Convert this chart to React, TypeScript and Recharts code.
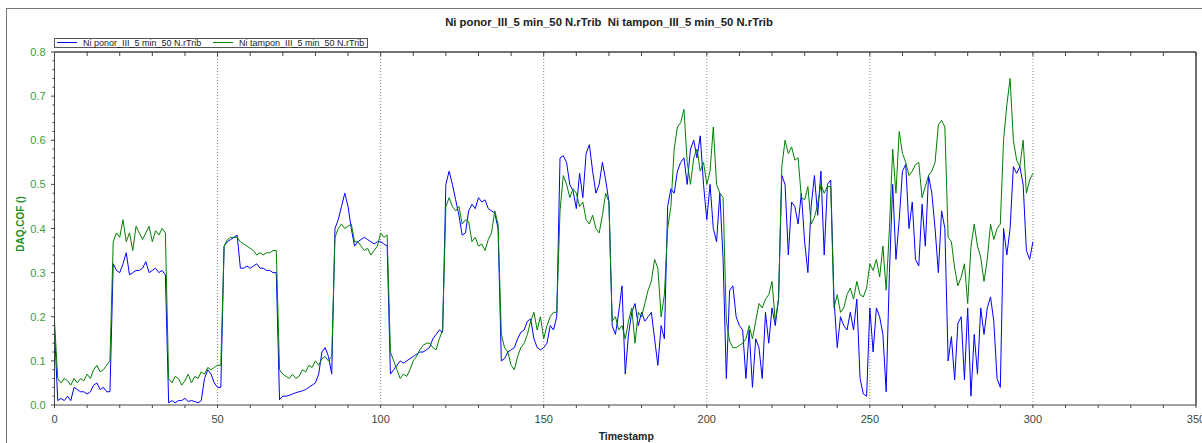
import React from 'react';
import { LineChart, Line, XAxis, YAxis, ReferenceLine, Legend } from 'recharts';

const TITLE = 'Ni ponor_III_5 min_50 N.rTrib  Ni tampon_III_5 min_50 N.rTrib';
const SERIES_PONOR = 'Ni ponor_III_5 min_50 N.rTrib';
const SERIES_TAMPON = 'Ni tampon_III_5 min_50 N.rTrib';
const X_LABEL = 'Timestamp';
const Y_LABEL = 'DAQ.COF ()';

// one sample per second, t = 0 .. 300 s
const SAMPLE_STEP = 1;

const ponor = [
  0.17, 0.01, 0.015, 0.01, 0.02, 0.01, 0.04, 0.035, 0.03, 0.03,
  0.025, 0.03, 0.045, 0.05, 0.035, 0.04, 0.03, 0.03, 0.32, 0.305,
  0.30, 0.32, 0.345, 0.295, 0.30, 0.305, 0.305, 0.31, 0.325, 0.30,
  0.305, 0.31, 0.30, 0.305, 0.295, 0.005, 0.01, 0.005, 0.01, 0.01,
  0.015, 0.008, 0.01, 0.008, 0.005, 0.01, 0.06, 0.08, 0.07, 0.05,
  0.04, 0.04, 0.36, 0.37, 0.375, 0.38, 0.385, 0.31, 0.31, 0.315,
  0.31, 0.315, 0.32, 0.31, 0.31, 0.305, 0.305, 0.30, 0.30, 0.012,
  0.02, 0.02, 0.022, 0.025, 0.028, 0.03, 0.032, 0.035, 0.04, 0.045,
  0.05, 0.07, 0.12, 0.13, 0.11, 0.07, 0.40, 0.42, 0.45, 0.48,
  0.45, 0.40, 0.36, 0.37, 0.375, 0.38, 0.375, 0.37, 0.365, 0.37,
  0.37, 0.365, 0.36, 0.07, 0.08, 0.09, 0.10, 0.095, 0.10, 0.105,
  0.11, 0.115, 0.12, 0.12, 0.125, 0.13, 0.15, 0.16, 0.17, 0.165,
  0.50, 0.53, 0.50, 0.465, 0.43, 0.385, 0.39, 0.44, 0.455, 0.445,
  0.47, 0.46, 0.465, 0.445, 0.44, 0.435, 0.40, 0.10, 0.105, 0.12,
  0.125, 0.13, 0.15, 0.165, 0.17, 0.19, 0.195, 0.15, 0.13, 0.125,
  0.13, 0.14, 0.18, 0.17, 0.20, 0.56, 0.565, 0.55, 0.50, 0.485,
  0.445, 0.525, 0.47, 0.57, 0.59, 0.53, 0.48, 0.50, 0.55, 0.51,
  0.46, 0.18, 0.16, 0.21, 0.27, 0.07, 0.16, 0.21, 0.23, 0.18,
  0.21, 0.19, 0.20, 0.21, 0.15, 0.09, 0.18, 0.15, 0.45, 0.49,
  0.48, 0.53, 0.55, 0.56, 0.50, 0.58, 0.60, 0.56, 0.61, 0.50,
  0.42, 0.50, 0.40, 0.37, 0.48, 0.33, 0.06, 0.26, 0.27, 0.20,
  0.18, 0.17, 0.06, 0.17, 0.04, 0.15, 0.13, 0.06, 0.21, 0.14,
  0.22, 0.18, 0.24, 0.52, 0.50, 0.34, 0.46, 0.45, 0.41, 0.48,
  0.37, 0.30, 0.45, 0.52, 0.43, 0.53, 0.34, 0.50, 0.51, 0.24,
  0.13, 0.20, 0.18, 0.17, 0.21, 0.17, 0.24, 0.06, 0.025, 0.02,
  0.22, 0.12, 0.22, 0.20, 0.16, 0.03, 0.30, 0.50, 0.33, 0.42,
  0.53, 0.545, 0.40, 0.46, 0.33, 0.315, 0.455, 0.36, 0.52, 0.48,
  0.40, 0.30, 0.44, 0.40, 0.10, 0.155, 0.057, 0.185, 0.20, 0.057,
  0.22, 0.02, 0.16, 0.07, 0.22, 0.16, 0.22, 0.245, 0.19, 0.06,
  0.04, 0.40, 0.34, 0.40, 0.54, 0.525, 0.54, 0.50, 0.35, 0.33,
  0.37,
];

const tampon = [
  0.19, 0.06, 0.05, 0.06, 0.055, 0.045, 0.06, 0.05, 0.06, 0.055,
  0.07, 0.06, 0.08, 0.09, 0.075, 0.08, 0.09, 0.10, 0.37, 0.39,
  0.38, 0.42, 0.37, 0.39, 0.35, 0.405, 0.39, 0.375, 0.39, 0.405,
  0.37, 0.395, 0.385, 0.40, 0.39, 0.06, 0.05, 0.065, 0.06, 0.045,
  0.055, 0.07, 0.05, 0.065, 0.06, 0.075, 0.07, 0.085, 0.08, 0.085,
  0.09, 0.09, 0.36, 0.375, 0.38, 0.38, 0.38, 0.37, 0.365, 0.36,
  0.355, 0.35, 0.34, 0.345, 0.34, 0.345, 0.345, 0.35, 0.35, 0.08,
  0.07, 0.065, 0.06, 0.07, 0.06, 0.065, 0.08, 0.075, 0.09, 0.085,
  0.10, 0.09, 0.105, 0.11, 0.10, 0.11, 0.38, 0.40, 0.41, 0.40,
  0.405, 0.41, 0.37, 0.37, 0.36, 0.35, 0.355, 0.34, 0.35, 0.36,
  0.39, 0.38, 0.385, 0.12, 0.10, 0.08, 0.06, 0.07, 0.065, 0.08,
  0.10, 0.11, 0.125, 0.135, 0.14, 0.14, 0.13, 0.125, 0.15, 0.17,
  0.45, 0.47, 0.45, 0.44, 0.45, 0.41, 0.42, 0.415, 0.37, 0.38,
  0.36, 0.365, 0.35, 0.375, 0.39, 0.44, 0.41, 0.16, 0.13, 0.12,
  0.09, 0.08, 0.11, 0.13, 0.14, 0.16, 0.19, 0.21, 0.17, 0.20,
  0.15, 0.18, 0.20, 0.21, 0.21, 0.44, 0.52, 0.50, 0.47, 0.49,
  0.48, 0.45, 0.46, 0.42, 0.41, 0.43, 0.40, 0.39, 0.43, 0.48,
  0.46, 0.19, 0.20, 0.17, 0.18, 0.15, 0.19, 0.22, 0.14, 0.21,
  0.20, 0.23, 0.26, 0.28, 0.33, 0.31, 0.20, 0.25, 0.40, 0.45,
  0.58, 0.63, 0.64, 0.67, 0.55, 0.50, 0.56, 0.58, 0.53, 0.55,
  0.50, 0.53, 0.63, 0.50, 0.48, 0.47, 0.19, 0.145, 0.13, 0.13,
  0.135, 0.14, 0.15, 0.18, 0.15, 0.19, 0.23, 0.22, 0.24, 0.25,
  0.28, 0.19, 0.24, 0.54, 0.60, 0.57, 0.585, 0.555, 0.56, 0.47,
  0.465, 0.495, 0.41, 0.425, 0.455, 0.50, 0.48, 0.495, 0.495, 0.22,
  0.25, 0.21, 0.22, 0.25, 0.265, 0.24, 0.28, 0.25, 0.245, 0.265,
  0.32, 0.305, 0.33, 0.29, 0.36, 0.26, 0.40, 0.58, 0.48, 0.62,
  0.57, 0.55, 0.52, 0.53, 0.545, 0.55, 0.47, 0.495, 0.52, 0.53,
  0.55, 0.635, 0.645, 0.63, 0.38, 0.37, 0.31, 0.27, 0.29, 0.32,
  0.23, 0.36, 0.41, 0.36, 0.335, 0.28, 0.33, 0.41, 0.375, 0.40,
  0.41, 0.60, 0.68, 0.74, 0.60, 0.555, 0.54, 0.60, 0.48, 0.51,
  0.525,
];

const X_TICKS = [0, 10, 20, 30, 40, 50, 60, 70, 80, 90, 100, 110, 120, 130, 140, 150, 160, 170, 180, 190, 200, 210, 220, 230, 240, 250, 260, 270, 280, 290, 300, 310, 320, 330, 340, 350];
const X_GRID = [50, 100, 150, 200, 250, 300];
const X_MAX = 350;
const Y_MAX = 0.8;
const Y_TICKS = [
  0, 0.02, 0.04, 0.06, 0.08, 0.1, 0.12, 0.14, 0.16, 0.18,
  0.2, 0.22, 0.24, 0.26, 0.28, 0.3, 0.32, 0.34, 0.36, 0.38,
  0.4, 0.42, 0.44, 0.46, 0.48, 0.5, 0.52, 0.54, 0.56, 0.58,
  0.6, 0.62, 0.64, 0.66, 0.68, 0.7, 0.72, 0.74, 0.76, 0.78, 0.8,
];

const data = ponor.map((v, i) => ({ t: i * SAMPLE_STEP, ponor: v, tampon: tampon[i] }));

const FONT = '"Liberation Sans", Arial, sans-serif';
const AXIS_COLOR = '#444';
const BLUE = '#0000ff';
const GREEN = '#008000';

const BottomTick = (props: any) => {
  const { x, y, payload } = props;
  const v = payload.value;
  const major = v % 50 === 0;
  return (
    <g>
      <line x1={x} x2={x} y1={y} y2={y + 3} stroke={AXIS_COLOR} strokeWidth={1} />
      {major && (
        <text x={x} y={y + 17.5} textAnchor="middle" fill="#444" fontSize={11} fontFamily={FONT}>
          {v}
        </text>
      )}
    </g>
  );
};

const TopTick = (props: any) => {
  const { x, y } = props;
  return <line x1={x} x2={x} y1={y} y2={y + 4} stroke={AXIS_COLOR} strokeWidth={1} />;
};

const LeftTick = (props: any) => {
  const { x, y, payload } = props;
  const v = payload.value;
  const major = Math.abs(v * 10 - Math.round(v * 10)) < 1e-6;
  return (
    <g>
      <line x1={x - (major ? 3.5 : 2)} x2={x} y1={y} y2={y} stroke={AXIS_COLOR} strokeWidth={1} />
      {major && (
        <text x={x - 9} y={y + 4} textAnchor="end" fill="#3c9c3c" fontSize={11} fontFamily={FONT}>
          {v.toFixed(1)}
        </text>
      )}
    </g>
  );
};

const renderLegend = (props: any) => {
  const items = props.payload || [];
  return (
    <div
      style={{
        width: 314,
        height: 10,
        boxSizing: 'border-box',
        border: '1px solid #555',
        display: 'flex',
        background: '#fff',
        fontFamily: FONT,
        fontSize: 9,
        lineHeight: '8px',
        color: '#222',
      }}
    >
      {items.map((it: any) => (
        <div key={it.value} style={{ width: 156, display: 'flex', alignItems: 'center', paddingLeft: 2, boxSizing: 'border-box' }}>
          <span style={{ display: 'inline-block', width: 20, height: 1, background: it.color, marginRight: 6 }} />
          <span style={{ whiteSpace: 'pre' }}>{it.value}</span>
        </div>
      ))}
    </div>
  );
};

const xLabel = (p: any) => {
  const vb = p.viewBox || {};
  return (
    <text x={vb.x + vb.width / 2 + 1} y={vb.y + 34.5} textAnchor="middle" fontSize={10.5} fontWeight="bold" fill="#222" fontFamily={FONT}>
      {X_LABEL}
    </text>
  );
};

const yLabel = (p: any) => {
  const vb = p.viewBox || {};
  const cx = vb.x + 13;
  const cy = vb.y + vb.height / 2 - 4.5;
  return (
    <text
      x={cx}
      y={cy}
      transform={`rotate(-90, ${cx}, ${cy})`}
      textAnchor="middle"
      dominantBaseline="central"
      fontSize={10}
      fontWeight="bold"
      fill="#1f8f1f"
      fontFamily={FONT}
    >
      {Y_LABEL}
    </text>
  );
};

export default function App() {
  return (
    <div style={{ position: 'absolute', left: 0, top: 0, width: 1202, height: 443, overflow: 'hidden', fontFamily: FONT }}>
      <div
        style={{
          position: 'absolute',
          left: 409,
          top: 16,
          width: 400,
          textAlign: 'center',
          fontSize: 11.3,
          lineHeight: '13px',
          fontWeight: 'bold',
          color: '#222',
          whiteSpace: 'pre',
        }}
      >
        {TITLE}
      </div>
      <div
        style={{
          position: 'absolute',
          left: 6,
          top: 8,
          width: 1196,
          height: 435,
          boxSizing: 'border-box',
          borderTop: '1px solid #777',
          borderLeft: '1px solid #777',
        }}
      >
        <LineChart width={1195} height={434} data={data} margin={{ top: 43, right: 6, bottom: 0, left: 0 }}>
          <XAxis
            dataKey="t"
            type="number"
            domain={[0, X_MAX]}
            ticks={X_TICKS}
            interval={0}
            height={38}
            tickSize={0}
            tickMargin={0}
            tick={<BottomTick />}
            tickLine={false}
            axisLine={{ stroke: AXIS_COLOR }}
            allowDataOverflow
            label={xLabel}
          />
          <XAxis
            xAxisId="top"
            dataKey="t"
            orientation="top"
            type="number"
            domain={[0, X_MAX]}
            ticks={X_TICKS}
            interval={0}
            mirror
            height={20}
            tickSize={0}
            tickMargin={0}
            tick={<TopTick />}
            tickLine={false}
            axisLine={{ stroke: AXIS_COLOR }}
            allowDataOverflow
          />
          <YAxis
            type="number"
            domain={[0, Y_MAX]}
            ticks={Y_TICKS}
            interval={0}
            width={47.5}
            tickSize={0}
            tickMargin={0}
            tick={<LeftTick />}
            tickLine={false}
            axisLine={{ stroke: AXIS_COLOR }}
            allowDataOverflow
            label={yLabel}
          />
          <YAxis
            yAxisId="right"
            orientation="right"
            type="number"
            domain={[0, Y_MAX]}
            mirror
            width={20}
            tick={false}
            tickLine={false}
            axisLine={{ stroke: AXIS_COLOR }}
            allowDataOverflow
          />
          {X_GRID.map((g) => (
            <ReferenceLine key={g} x={g} stroke="#8a8a8a" strokeDasharray="1 2" strokeWidth={1} />
          ))}
          <ReferenceLine y={Y_MAX} stroke={AXIS_COLOR} strokeWidth={1} />
          <ReferenceLine x={X_MAX} stroke={AXIS_COLOR} strokeWidth={1} />
          <Legend
            layout="horizontal"
            verticalAlign="middle"
            align="center"
            content={renderLegend}
            wrapperStyle={{ position: 'absolute', left: 47, top: 28.7, width: 314, height: 10 }}
          />
          <Line
            name={SERIES_PONOR}
            dataKey="ponor"
            type="linear"
            stroke={BLUE}
            strokeWidth={1}
            dot={false}
            isAnimationActive={false}
          />
          <Line
            name={SERIES_TAMPON}
            dataKey="tampon"
            type="linear"
            stroke={GREEN}
            strokeWidth={1}
            dot={false}
            isAnimationActive={false}
          />
        </LineChart>
      </div>
    </div>
  );
}
